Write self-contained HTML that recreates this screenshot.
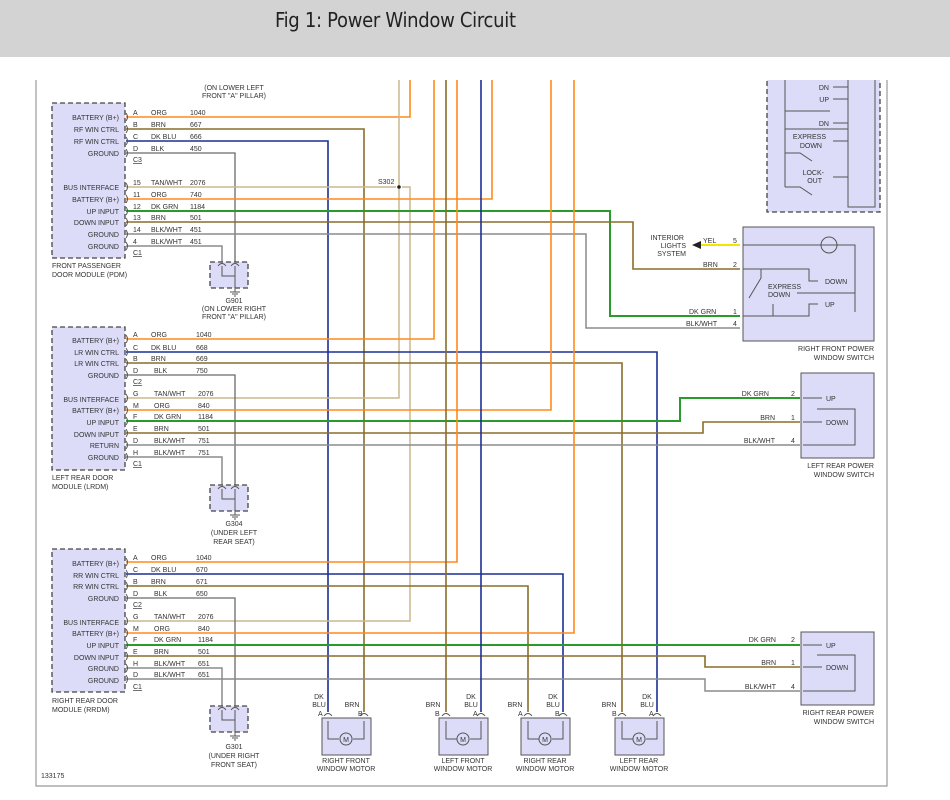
<!DOCTYPE html>
<html><head><meta charset="utf-8"><style>
body{margin:0;width:950px;height:800px;background:#fff;overflow:hidden}
#hd{position:absolute;left:0;top:0;width:950px;height:57px;background:#d3d3d3}
#hd span{position:absolute;left:275px;top:8px;font:20px "DejaVu Sans Condensed","Liberation Sans Narrow","Liberation Sans",sans-serif;color:#222;letter-spacing:-0.3px}
svg{position:absolute;left:0;top:0}
text{font-family:"Liberation Sans",sans-serif;font-size:7px;fill:#333}
.o{stroke:#ff8a1c;stroke-width:1.6;fill:none}
.b{stroke:#8a6d2a;stroke-width:1.6;fill:none}
.u{stroke:#1c2f95;stroke-width:1.6;fill:none}
.g{stroke:#2a9a2a;stroke-width:2;fill:none}
.t{stroke:#c9b98e;stroke-width:1.5;fill:none}
.k{stroke:#8c8c8c;stroke-width:1.5;fill:none}
.d{stroke:#6a6a6a;stroke-width:1.3;fill:none}
.y{stroke:#f2e600;stroke-width:2;fill:none}
.bx{fill:#dcdcf8;stroke:#444;stroke-width:1.3;stroke-dasharray:5,3}
.sb{fill:#dcdcf8;stroke:#555;stroke-width:1}
.ln{stroke:#555;stroke-width:1;fill:none}
.r{text-anchor:end}.c{text-anchor:middle}
</style></head><body>
<div id="hd"><span>Fig 1: Power Window Circuit</span></div>
<svg width="950" height="800" viewBox="0 0 950 800">
<defs><clipPath id="cp"><rect x="0" y="80" width="950" height="720"/></clipPath></defs>
<!-- frame -->
<path d="M36,80V786H887V80" stroke="#999" stroke-width="1.2" fill="none"/>
<text x="41" y="778">133175</text>

<!-- module boxes -->
<rect class="bx" x="52" y="103" width="73" height="155"/>
<rect class="bx" x="52" y="327" width="73" height="143"/>
<rect class="bx" x="52" y="549" width="73" height="143"/>

<!-- PDM wires -->
<path class="o" d="M126,117H410V80"/>
<path class="b" d="M126,129H364V712"/>
<path class="u" d="M126,141H328V712"/>
<path class="d" d="M126,153H235V262"/>
<path class="t" d="M126,187H396M402,187H410V621H126"/>
<path class="t" d="M399,80V398H126"/>
<path class="o" d="M126,199H492V80"/>
<path class="g" d="M126,211H610V316H740"/>
<path class="b" d="M126,222H633V269H740"/>
<path class="k" d="M126,234H586V328H740"/>
<path class="k" d="M126,246H222V262"/>
<circle cx="399" cy="187" r="1.8" fill="#222"/>
<text x="378" y="184">S302</text>
<!-- LRDM wires -->
<path class="o" d="M126,339H434V80"/>
<path class="u" d="M126,352H657V712"/>
<path class="b" d="M126,363H622V712"/>
<path class="d" d="M126,375H235V485"/>
<path class="o" d="M126,410H551V80"/>
<path class="g" d="M126,421H680V398H800"/>
<path class="b" d="M126,433H703V422H800"/>
<path class="k" d="M126,445H800"/>
<path class="k" d="M126,457H222V485"/>
<!-- RRDM wires -->
<path class="o" d="M126,562H457V80"/>
<path class="u" d="M126,574H563V712"/>
<path class="b" d="M126,586H528V712"/>
<path class="d" d="M126,598H235V706"/>
<path class="o" d="M126,633H574V80"/>
<path class="g" d="M126,645H800"/>
<path class="b" d="M126,656H705V667H800"/>
<path class="k" d="M126,668H222V706"/>
<path class="k" d="M126,679H705V691H800"/>
<path class="b" d="M446,80V712"/>
<path class="u" d="M481,80V712"/>

<g class="ln">
<path d="M126,113q3,4 0,8M126,125q3,4 0,8M126,137q3,4 0,8M126,149q3,4 0,8M126,183q3,4 0,8M126,195q3,4 0,8M126,207q3,4 0,8M126,218q3,4 0,8M126,230q3,4 0,8M126,242q3,4 0,8"/>
<path d="M126,335q3,4 0,8M126,348q3,4 0,8M126,359q3,4 0,8M126,371q3,4 0,8M126,394q3,4 0,8M126,406q3,4 0,8M126,417q3,4 0,8M126,429q3,4 0,8M126,441q3,4 0,8M126,453q3,4 0,8"/>
<path d="M126,558q3,4 0,8M126,570q3,4 0,8M126,582q3,4 0,8M126,594q3,4 0,8M126,617q3,4 0,8M126,629q3,4 0,8M126,641q3,4 0,8M126,652q3,4 0,8M126,664q3,4 0,8M126,675q3,4 0,8"/>
</g>

<g>
<text class="r" x="119" y="120">BATTERY (B+)</text><text class="r" x="119" y="132">RF WIN CTRL</text><text class="r" x="119" y="144">RF WIN CTRL</text><text class="r" x="119" y="156">GROUND</text>
<text class="r" x="119" y="190">BUS INTERFACE</text><text class="r" x="119" y="202">BATTERY (B+)</text><text class="r" x="119" y="214">UP INPUT</text><text class="r" x="119" y="225">DOWN INPUT</text><text class="r" x="119" y="237">GROUND</text><text class="r" x="119" y="249">GROUND</text>
<text x="133" y="115">A</text><text x="151" y="115">ORG</text><text x="190" y="115">1040</text>
<text x="133" y="127">B</text><text x="151" y="127">BRN</text><text x="190" y="127">667</text>
<text x="133" y="139">C</text><text x="151" y="139">DK BLU</text><text x="190" y="139">666</text>
<text x="133" y="151">D</text><text x="151" y="151">BLK</text><text x="190" y="151">450</text>
<text x="133" y="162" text-decoration="underline">C3</text>
<text x="133" y="185">15</text><text x="151" y="185">TAN/WHT</text><text x="190" y="185">2076</text>
<text x="133" y="197">11</text><text x="151" y="197">ORG</text><text x="190" y="197">740</text>
<text x="133" y="209">12</text><text x="151" y="209">DK GRN</text><text x="190" y="209">1184</text>
<text x="133" y="220">13</text><text x="151" y="220">BRN</text><text x="190" y="220">501</text>
<text x="133" y="232">14</text><text x="151" y="232">BLK/WHT</text><text x="190" y="232">451</text>
<text x="133" y="244">4</text><text x="151" y="244">BLK/WHT</text><text x="190" y="244">451</text>
<text x="133" y="255" text-decoration="underline">C1</text>
<text x="52" y="268">FRONT PASSENGER</text><text x="52" y="277">DOOR MODULE (PDM)</text>
<text class="c" x="234" y="90">(ON LOWER LEFT</text><text class="c" x="234" y="98">FRONT "A" PILLAR)</text>
</g>
<g>
<text class="r" x="119" y="343">BATTERY (B+)</text><text class="r" x="119" y="355">LR WIN CTRL</text><text class="r" x="119" y="366">LR WIN CTRL</text><text class="r" x="119" y="378">GROUND</text>
<text class="r" x="119" y="402">BUS INTERFACE</text><text class="r" x="119" y="413">BATTERY (B+)</text><text class="r" x="119" y="425">UP INPUT</text><text class="r" x="119" y="437">DOWN INPUT</text><text class="r" x="119" y="448">RETURN</text><text class="r" x="119" y="460">GROUND</text>
<text x="133" y="337">A</text><text x="151" y="337">ORG</text><text x="196" y="337">1040</text>
<text x="133" y="350">C</text><text x="151" y="350">DK BLU</text><text x="196" y="350">668</text>
<text x="133" y="361">B</text><text x="151" y="361">BRN</text><text x="196" y="361">669</text>
<text x="133" y="373">D</text><text x="154" y="373">BLK</text><text x="196" y="373">750</text>
<text x="133" y="384" text-decoration="underline">C2</text>
<text x="133" y="396">G</text><text x="154" y="396">TAN/WHT</text><text x="198" y="396">2076</text>
<text x="133" y="408">M</text><text x="154" y="408">ORG</text><text x="198" y="408">840</text>
<text x="133" y="419">F</text><text x="154" y="419">DK GRN</text><text x="198" y="419">1184</text>
<text x="133" y="431">E</text><text x="154" y="431">BRN</text><text x="198" y="431">501</text>
<text x="133" y="443">D</text><text x="154" y="443">BLK/WHT</text><text x="198" y="443">751</text>
<text x="133" y="455">H</text><text x="154" y="455">BLK/WHT</text><text x="198" y="455">751</text>
<text x="133" y="466" text-decoration="underline">C1</text>
<text x="52" y="480">LEFT REAR DOOR</text><text x="52" y="489">MODULE (LRDM)</text>
</g>
<g>
<text class="r" x="119" y="566">BATTERY (B+)</text><text class="r" x="119" y="578">RR WIN CTRL</text><text class="r" x="119" y="589">RR WIN CTRL</text><text class="r" x="119" y="601">GROUND</text>
<text class="r" x="119" y="625">BUS INTERFACE</text><text class="r" x="119" y="636">BATTERY (B+)</text><text class="r" x="119" y="648">UP INPUT</text><text class="r" x="119" y="660">DOWN INPUT</text><text class="r" x="119" y="671">GROUND</text><text class="r" x="119" y="683">GROUND</text>
<text x="133" y="560">A</text><text x="151" y="560">ORG</text><text x="196" y="560">1040</text>
<text x="133" y="572">C</text><text x="151" y="572">DK BLU</text><text x="196" y="572">670</text>
<text x="133" y="584">B</text><text x="151" y="584">BRN</text><text x="196" y="584">671</text>
<text x="133" y="596">D</text><text x="154" y="596">BLK</text><text x="196" y="596">650</text>
<text x="133" y="607" text-decoration="underline">C2</text>
<text x="133" y="619">G</text><text x="154" y="619">TAN/WHT</text><text x="198" y="619">2076</text>
<text x="133" y="631">M</text><text x="154" y="631">ORG</text><text x="198" y="631">840</text>
<text x="133" y="642">F</text><text x="154" y="642">DK GRN</text><text x="198" y="642">1184</text>
<text x="133" y="654">E</text><text x="154" y="654">BRN</text><text x="198" y="654">501</text>
<text x="133" y="666">H</text><text x="154" y="666">BLK/WHT</text><text x="198" y="666">651</text>
<text x="133" y="677">D</text><text x="154" y="677">BLK/WHT</text><text x="198" y="677">651</text>
<text x="133" y="689" text-decoration="underline">C1</text>
<text x="52" y="703">RIGHT REAR DOOR</text><text x="52" y="712">MODULE (RRDM)</text>
</g>

<g>
<rect class="bx" x="210" y="262" width="38" height="26"/>
<rect class="bx" x="210" y="485" width="38" height="26"/>
<rect class="bx" x="210" y="706" width="38" height="26"/>
<path class="ln" d="M222,266V276H235M235,266V292M230,292h10M232,294h6M234,296h2"/>
<path class="ln" d="M222,489V499H235M235,489V515M230,515h10M232,517h6M234,519h2"/>
<path class="ln" d="M222,710V720H235M235,710V736M230,736h10M232,738h6M234,740h2"/>
<path class="ln" d="M218,266q4,-5 8,0M231,266q4,-5 8,0M218,489q4,-5 8,0M231,489q4,-5 8,0M218,710q4,-5 8,0M231,710q4,-5 8,0"/>
<text class="c" x="234" y="303">G901</text><text class="c" x="234" y="311">(ON LOWER RIGHT</text><text class="c" x="234" y="319">FRONT "A" PILLAR)</text>
<text class="c" x="234" y="526">G304</text><text class="c" x="234" y="535">(UNDER LEFT</text><text class="c" x="234" y="544">REAR SEAT)</text>
<text class="c" x="234" y="749">G301</text><text class="c" x="234" y="758">(UNDER RIGHT</text><text class="c" x="234" y="767">FRONT SEAT)</text>
</g>

<g clip-path="url(#cp)">
<rect class="bx" x="767" y="60" width="113" height="152"/>
<rect class="sb" x="848" y="60" width="27" height="147"/>
<path class="ln" d="M785,80V187M833,87H848M833,99H848M785,111H830M833,123H848M785,129H848M833,141H848M785,153H800l12,8M833,177H848M785,187H800l12,8"/>
</g>
<text class="r" x="829" y="90">DN</text><text class="r" x="829" y="102">UP</text><text class="r" x="829" y="126">DN</text>
<text class="r" x="826" y="139">EXPRESS</text><text class="r" x="822" y="148">DOWN</text>
<text class="r" x="824" y="175">LOCK-</text><text class="r" x="822" y="183">OUT</text>

<rect class="sb" x="743" y="227" width="131" height="114"/>
<path class="y" d="M700,245H740"/>
<path d="M692,245l9,-4v8z" fill="#222"/>
<path class="ln" d="M743,245H855V312M743,269H809V281H818M743,316H809V304H818M797,293H855M761,269V278l-12,20M773,304V316"/>
<circle cx="829" cy="245" r="8" fill="none" stroke="#555"/>
<text class="r" x="684" y="240">INTERIOR</text><text class="r" x="686" y="248">LIGHTS</text><text class="r" x="686" y="256">SYSTEM</text>
<text x="703" y="243">YEL</text><text x="733" y="243">5</text>
<text x="703" y="267">BRN</text><text x="733" y="267">2</text>
<text x="689" y="314">DK GRN</text><text x="733" y="314">1</text>
<text x="686" y="326">BLK/WHT</text><text x="733" y="326">4</text>
<text x="768" y="289">EXPRESS</text><text x="768" y="297">DOWN</text>
<text x="825" y="284">DOWN</text><text x="825" y="307">UP</text>
<text class="r" x="874" y="351">RIGHT FRONT POWER</text><text class="r" x="874" y="360">WINDOW SWITCH</text>

<rect class="sb" x="801" y="373" width="73" height="85"/>
<path class="ln" d="M803,398H822M803,422H822M803,445H855V409H817"/>
<text x="826" y="401">UP</text><text x="826" y="425">DOWN</text>
<text class="r" x="769" y="396">DK GRN</text><text x="791" y="396">2</text>
<text class="r" x="775" y="420">BRN</text><text x="791" y="420">1</text>
<text class="r" x="775" y="443">BLK/WHT</text><text x="791" y="443">4</text>
<text class="r" x="874" y="468">LEFT REAR POWER</text><text class="r" x="874" y="477">WINDOW SWITCH</text>

<rect class="sb" x="801" y="632" width="73" height="73"/>
<path class="ln" d="M803,645H822M803,667H822M803,691H855V655H817"/>
<text x="826" y="648">UP</text><text x="826" y="670">DOWN</text>
<text class="r" x="776" y="642">DK GRN</text><text x="791" y="642">2</text>
<text class="r" x="776" y="665">BRN</text><text x="791" y="665">1</text>
<text class="r" x="776" y="689">BLK/WHT</text><text x="791" y="689">4</text>
<text class="r" x="874" y="715">RIGHT REAR POWER</text><text class="r" x="874" y="724">WINDOW SWITCH</text>

<g>
<rect class="sb" x="322" y="718" width="49" height="37"/>
<rect class="sb" x="439" y="718" width="49" height="37"/>
<rect class="sb" x="521" y="718" width="49" height="37"/>
<rect class="sb" x="615" y="718" width="49" height="37"/>
<path class="ln" d="M328,721V739H339M364,721V739H353M446,721V739H457M481,721V739H470M528,721V739H539M563,721V739H552M622,721V739H633M657,721V739H646"/>
<circle cx="346" cy="739" r="6" fill="none" stroke="#555"/><text class="c" x="346" y="742">M</text>
<circle cx="463" cy="739" r="6" fill="none" stroke="#555"/><text class="c" x="463" y="742">M</text>
<circle cx="545" cy="739" r="6" fill="none" stroke="#555"/><text class="c" x="545" y="742">M</text>
<circle cx="639" cy="739" r="6" fill="none" stroke="#555"/><text class="c" x="639" y="742">M</text>
<path class="ln" d="M324,716q4,-5 8,0M360,716q4,-5 8,0M442,716q4,-5 8,0M477,716q4,-5 8,0M524,716q4,-5 8,0M559,716q4,-5 8,0M618,716q4,-5 8,0M653,716q4,-5 8,0"/>
<text class="c" x="319" y="699">DK</text><text class="c" x="319" y="707">BLU</text><text x="318" y="716">A</text>
<text class="c" x="352" y="707">BRN</text><text x="358" y="716">B</text>
<text class="c" x="433" y="707">BRN</text><text x="435" y="716">B</text>
<text class="c" x="471" y="699">DK</text><text class="c" x="471" y="707">BLU</text><text x="473" y="716">A</text>
<text class="c" x="515" y="707">BRN</text><text x="518" y="716">A</text>
<text class="c" x="553" y="699">DK</text><text class="c" x="553" y="707">BLU</text><text x="555" y="716">B</text>
<text class="c" x="609" y="707">BRN</text><text x="612" y="716">B</text>
<text class="c" x="647" y="699">DK</text><text class="c" x="647" y="707">BLU</text><text x="649" y="716">A</text>
<text class="c" x="346" y="763">RIGHT FRONT</text><text class="c" x="346" y="771">WINDOW MOTOR</text>
<text class="c" x="463" y="763">LEFT FRONT</text><text class="c" x="463" y="771">WINDOW MOTOR</text>
<text class="c" x="545" y="763">RIGHT REAR</text><text class="c" x="545" y="771">WINDOW MOTOR</text>
<text class="c" x="639" y="763">LEFT REAR</text><text class="c" x="639" y="771">WINDOW MOTOR</text>
</g>
</svg>
</body></html>
